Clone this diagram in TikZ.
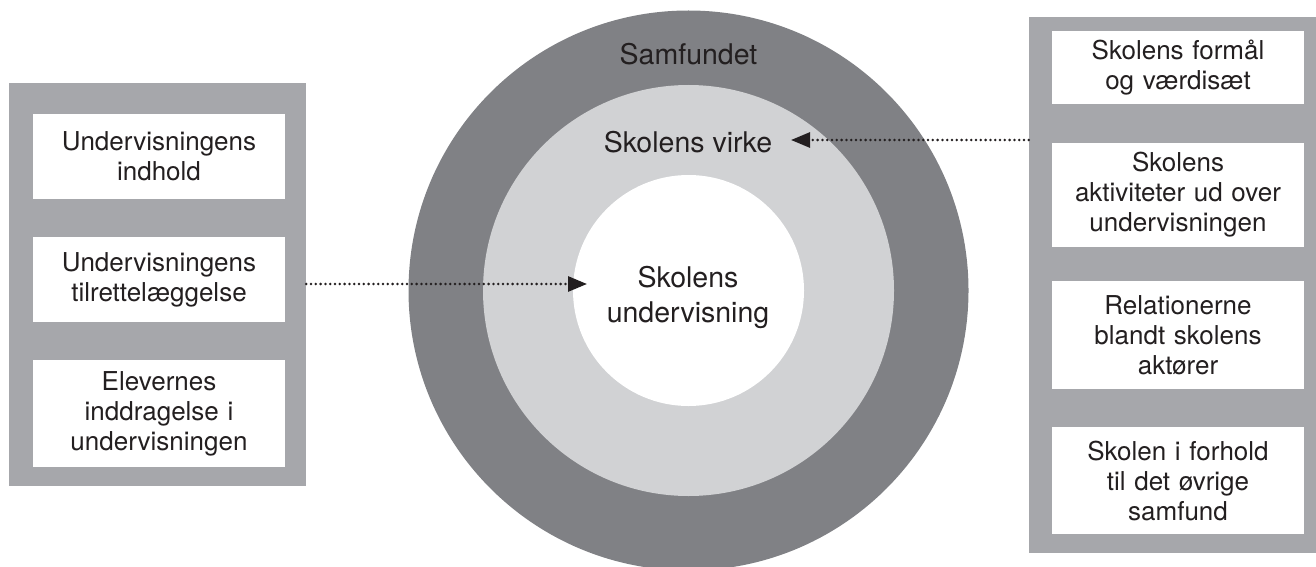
\documentclass[tikz,border=0pt]{standalone}
\usepackage{fontspec}
\setmainfont{TeX Gyre Heros}
\usetikzlibrary{arrows.meta}
\definecolor{ringdark}{RGB}{128,129,133}
\definecolor{ringlight}{RGB}{209,210,212}
\definecolor{panelgray}{RGB}{166,167,171}
\definecolor{inktext}{RGB}{35,31,32}
\tikzset{
  panel/.style={rectangle, fill=panelgray, inner sep=0pt},
  itembox/.style={rectangle, fill=white, inner sep=0pt, minimum width=252pt,
    text width=246pt, align=center, text=inktext, font=\fontsize{26}{30}\selectfont},
  ring/.style={circle, inner sep=0pt},
  ringlabel/.style={align=center, text=inktext, font=\fontsize{28.5}{35}\selectfont},
  pointer/.style={draw=inktext, line width=2.8pt, line cap=round,
    dash pattern=on 0pt off 4.8pt, -{Triangle[length=19pt,width=15pt]}}
}
\begin{document}
\begin{tikzpicture}[x=1pt, y=-1pt]
    \useasboundingbox (0,0) rectangle (1316,567);

    % rings
    \node[ring, fill=ringdark, minimum size=560pt] (outer) at (688.5,290.5) {};
    \node[ring, fill=ringlight, minimum size=411pt] (middle) at (688.5,290.5) {};
    \node[ring, fill=white, minimum size=231pt] (inner) at (688.5,290.5) {};
    \node[ringlabel, anchor=base] (samfund) at (688.5,65) {Samfundet};
    \node[ringlabel, anchor=base] (virke) at (688,152) {Skolens virke};
    \node[ringlabel] (undervisning) at (688,297) {Skolens\\undervisning};

    % left panel
    \node[panel, minimum width=297pt, minimum height=403pt] (leftpanel) at (157.5,284.5) {};
    \node[itembox, minimum height=85pt] (indhold) at (159,156.5) {Undervisningens\\indhold};
    \node[itembox, minimum height=85pt] (tilrette) at (159,279.5) {Undervisningens\\tilrettelæggelse};
    \node[itembox, minimum height=107pt] (elever) at (159,413.5) {Elevernes\\inddragelse i\\undervisningen};

    % right panel
    \node[panel, minimum width=298pt, minimum height=536pt] (rightpanel) at (1178,285) {};
    \node[itembox, minimum height=73pt] (formaal) at (1178,67.5) {Skolens formål\\og værdisæt};
    \node[itembox, minimum height=104pt] (aktivitet) at (1178,195) {Skolens\\aktiviteter ud over\\undervisningen};
    \node[itembox, minimum height=108pt] (relation) at (1178,335) {Relationerne\\blandt skolens\\aktører};
    \node[itembox, minimum height=107pt] (forhold) at (1178,480.5) {Skolen i forhold\\til det øvrige\\samfund};

    % pointers
    \coordinate (innertip) at (587,284);
    \coordinate (virketip) at (791,140);
    \draw[pointer] (leftpanel.east |- innertip) -- (innertip);
    \draw[pointer] (rightpanel.west |- virketip) -- (virketip);
\end{tikzpicture}
\end{document}
